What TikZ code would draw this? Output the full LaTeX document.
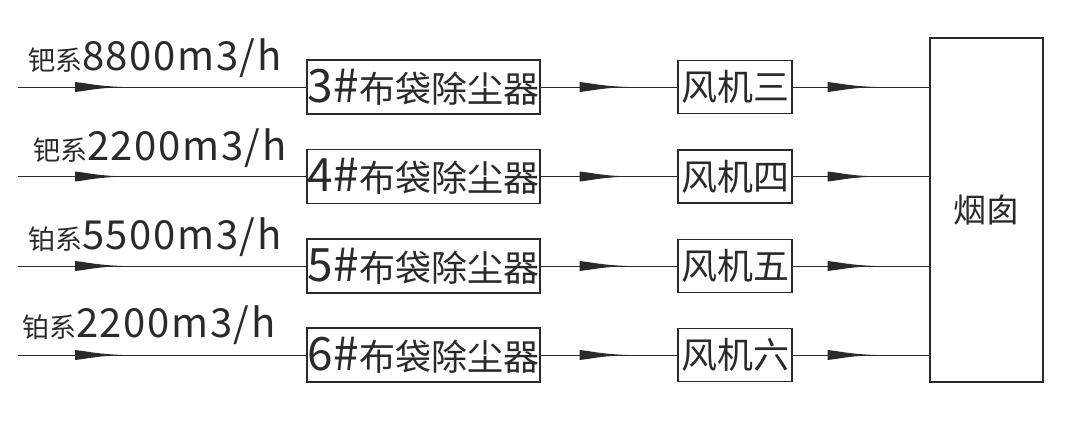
\documentclass[tikz,border=0pt]{standalone}
\usepackage{fontspec}
\setmainfont{Noto Sans CJK SC}
\usetikzlibrary{decorations.markings}
\definecolor{ink}{HTML}{2A2A2A}
\tikzset{
  boxed/.style={draw=ink, line width=1.2pt, inner sep=0pt, text=ink},
  collector/.style={boxed, minimum width=233pt, minimum height=54pt},
  fanbox/.style={boxed, minimum width=114pt, minimum height=53pt},
  stackbox/.style={boxed, minimum width=113pt, minimum height=344pt},
  lbl/.style={anchor=base west, inner sep=0pt, text=ink},
  arrowshape/.pic={\fill[ink] (0,-5) -- (8,-4) .. controls (20,-2) and (32,-0.6) .. (48,0) .. controls (32,0.6) and (20,2) .. (8,4) -- (0,5) -- cycle;},
  flowin/.style={draw=ink, line width=0.9pt, postaction={decorate}, decoration={markings, mark=at position 57pt with {\pic{arrowshape};}}},
  flowmid/.style={draw=ink, line width=0.9pt, postaction={decorate}, decoration={markings, mark=at position 39pt with {\pic{arrowshape};}}},
  flowout/.style={draw=ink, line width=0.9pt, postaction={decorate}, decoration={markings, mark=at position 35pt with {\pic{arrowshape};}}},
}
\newcommand{\cjkS}[1]{{\fontsize{27}{27}\selectfont #1}}
\newcommand{\digL}[1]{{\fontsize{40}{40}\selectfont\addfontfeatures{LetterSpace=4} #1}}
\newcommand{\colltext}[2]{{\fontsize{46}{46}\selectfont #1\#}{\fontsize{36}{36}\selectfont #2}}
\begin{document}
\begin{tikzpicture}[x=1pt,y=-1pt]
\useasboundingbox[fill=white] (0,0) rectangle (1080,421);
% chimney
\node[stackbox] (ch) at (986.5,210) {\fontsize{33}{33}\selectfont 烟囱};
% rows
\foreach \i/\y/\num/\fan in {1/87/3/三, 2/176.5/4/四, 3/266/5/五, 4/355/6/六}{
  \node[collector] (c\i) at (423.5,\y) {\colltext{\num}{布袋除尘器}};
  \node[fanbox] (f\i) at (735,\y) {\fontsize{36}{36}\selectfont 风机\fan};
  \coordinate (in\i) at (18,\y);
  \draw[flowin] (in\i) -- (c\i.west);
  \draw[flowmid] (c\i.east) -- (f\i.west);
  \draw[flowout] (f\i.east) -- (f\i.east -| ch.west);
}
% labels
\node[lbl] (l1) at (28,70) {\cjkS{钯系}\digL{8800m3/h}};
\node[lbl] (l2) at (33,160) {\cjkS{钯系}\digL{2200m3/h}};
\node[lbl] (l3) at (28,249) {\cjkS{铂系}\digL{5500m3/h}};
\node[lbl] (l4) at (22,337) {\cjkS{铂系}\digL{2200m3/h}};
\end{tikzpicture}
\end{document}
